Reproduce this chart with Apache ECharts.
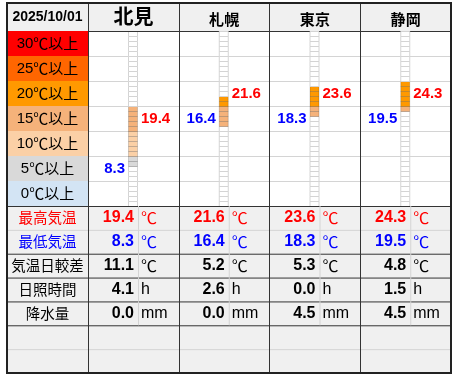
<!DOCTYPE html>
<html>
<head>
<meta charset="utf-8">
<script src="https://cdn.jsdelivr.net/npm/echarts@6/dist/echarts.min.js"></script>
<style>
  html, body { margin: 0; padding: 0; background: #fff; }
  #weather { width: 456px; height: 377px; }
</style>
</head>
<body>
<div id="weather"></div>
<script>
// データ
const dateText = "2025/10/01";
const cities = ["北見", "札幌", "東京", "静岡"];
const maxTemp = [19.4, 21.6, 23.6, 24.3];
const minTemp = [8.3, 16.4, 18.3, 19.5];
const tempRange = [11.1, 5.2, 5.3, 4.8];
const sunshine = [4.1, 2.6, 0.0, 1.5];
const rain = [0.0, 0.0, 4.5, 4.5];
const bandLabels = ["0℃以上", "5℃以上", "10℃以上", "15℃以上", "20℃以上", "25℃以上", "30℃以上"];
const bandColors = ["#d3e4f4", "#d9d9d9", "#fbd0a6", "#f5b27a", "#ff9900", "#ff6600", "#ff0000"];
const rowLabels = ["最高気温", "最低気温", "気温日較差", "日照時間", "降水量", "", ""];
const rowUnits = ["℃", "℃", "℃", "h", "mm"];
const rowColors = ["#ff0000", "#0000ff", "#000", "#000", "#000"];
const rowValues = [maxTemp, minTemp, tempRange, sunshine, rain];

// レイアウト
const L = 7, T = 3, R = 5, B = 4;
const LABEL_W = 81, HEAD_H = 28, BAND_H = 25;
const BAND_TOP = T + HEAD_H;
const TABLE_TOP = BAND_TOP + BAND_H * bandLabels.length;
const DARK = "#333";
const LIGHT = "#d4d4d4";
const FONT = '"Liberation Sans", "Noto Sans CJK JP", sans-serif';
const FONT_CJK = '"Noto Sans CJK JP", sans-serif';

const myChart = echarts.init(document.getElementById("weather"));

function bandRender(params, api) {
  const i = api.value(0);
  const lo = api.value(1);
  const hi = api.value(2);
  const cs = params.coordSys;
  const cx = api.coord([i, 0])[0];
  const bw = api.size([1, 0])[0];
  const colLeft = cx - bw / 2;
  const children = [];
  // 温度目盛りセル
  for (let k = 0; k < 35; k++) {
    const y1 = api.coord([i, k + 1])[1];
    const y0 = api.coord([i, k])[1];
    const filled = k >= Math.floor(lo) && k <= Math.floor(hi);
    children.push({
      type: "rect",
      shape: { x: colLeft + 40.5, y: y1 + 0.5, width: 9, height: y0 - y1 },
      style: {
        fill: filled ? bandColors[Math.floor(k / 5)] : "#fff",
        stroke: filled ? "rgba(0,0,0,0.16)" : LIGHT,
        lineWidth: 1,
      },
    });
  }
  const bandMid = (t) => {
    const b = Math.floor(t / 5);
    return (api.coord([i, b * 5])[1] + api.coord([i, b * 5 + 5])[1]) / 2;
  };
  children.push({
    type: "text",
    style: {
      text: hi.toFixed(1), x: colLeft + 53, y: bandMid(hi),
      align: "left", verticalAlign: "middle",
      fill: "#ff0000", font: "bold 15px " + FONT,
    },
  });
  children.push({
    type: "text",
    style: {
      text: lo.toFixed(1), x: colLeft + 37, y: bandMid(lo),
      align: "right", verticalAlign: "middle",
      fill: "#0000ff", font: "bold 15px " + FONT,
    },
  });
  // 見出し
  children.push({
    type: "text",
    style: {
      text: cities[i], x: cx, y: i === 0 ? cs.y - 15 : cs.y - 11.5,
      align: "center", verticalAlign: "middle",
      fill: "#000", font: (i === 0 ? "bold 20px " : "bold 15px ") + FONT_CJK,
    },
  });
  if (i === 0) {
    children.push({
      type: "line",
      shape: { x1: cs.x - LABEL_W, y1: cs.y + 0.5, x2: cs.x + cs.width, y2: cs.y + 0.5 },
      style: { stroke: DARK, lineWidth: 1 },
    });
  }
  return { type: "group", children: children };
}

function tableRender(params, api) {
  const r = api.value(1);
  const cs = params.coordSys;
  const yc = api.coord([0, r])[1];
  const h = api.size([0, 1])[1];
  const top = yc - h / 2, bot = yc + h / 2;
  const colW = (cs.width - LABEL_W) / cities.length;
  const children = [];
  if (r === 0) {
    children.push({
      type: "line",
      shape: { x1: cs.x, y1: top + 0.5, x2: cs.x + cs.width, y2: top + 0.5 },
      style: { stroke: DARK, lineWidth: 1 },
    });
  }
  if (r < rowLabels.length - 1) {
    const light = r === 0 || r === 5;
    children.push({
      type: "line",
      shape: { x1: cs.x, y1: bot + 0.5, x2: cs.x + cs.width, y2: bot + 0.5 },
      style: { stroke: light ? LIGHT : DARK, lineWidth: 1 },
    });
  }
  if (r < rowValues.length) {
    const color = rowColors[r];
    const unit = rowUnits[r];
    children.push({
      type: "text",
      style: {
        text: rowLabels[r], x: cs.x + LABEL_W / 2, y: yc,
        align: "center", verticalAlign: "middle",
        fill: color, font: "14.5px " + FONT_CJK,
      },
    });
    rowValues[r].forEach((v, j) => {
      const colLeft = cs.x + LABEL_W + j * colW;
      children.push({
        type: "line",
        shape: { x1: colLeft + 50.5, y1: top, x2: colLeft + 50.5, y2: bot },
        style: { stroke: LIGHT, lineWidth: 1 },
      });
      children.push({
        type: "text",
        style: {
          text: v.toFixed(1), x: colLeft + 46, y: yc,
          align: "right", verticalAlign: "middle",
          fill: color, font: "bold 16px " + FONT,
        },
      });
      children.push({
        type: "text",
        style: {
          text: unit, x: colLeft + 53, y: yc,
          align: "left", verticalAlign: "middle",
          fill: color, font: "16px " + (unit === "℃" ? FONT_CJK : FONT),
        },
      });
    });
  }
  return { type: "group", children: children };
}

const hidden = { show: false };

myChart.setOption({
  backgroundColor: "#fff",
  animation: false,
  graphic: [
    {
      type: "text",
      z: 20,
      style: {
        text: dateText, x: L + LABEL_W / 2, y: T + HEAD_H / 2,
        align: "center", verticalAlign: "middle",
        fill: "#000", font: "bold 14px " + FONT,
      },
    },
  ],
  grid: [
    // 0: 温度帯ラベル
    { left: L, top: BAND_TOP, width: LABEL_W, height: BAND_H * 7 },
    // 1: 温度バー
    { left: L + LABEL_W, top: BAND_TOP, right: R, height: BAND_H * 7 },
    // 2: 表
    { left: L, top: TABLE_TOP, right: R, bottom: B, show: true, backgroundColor: "#f0f0f0", borderWidth: 0 },
    // 3: 列の区切り
    { left: L + LABEL_W, top: T, right: R, bottom: B },
    // 4: 見出し背景
    { left: L, top: T, right: R, height: HEAD_H, show: true, backgroundColor: "#f0f0f0", borderWidth: 0 },
    // 5: 外枠
    { left: L, top: T, right: R, bottom: B, show: true, backgroundColor: "transparent", borderColor: "#222", borderWidth: 2, z: 10 },
  ],
  xAxis: [
    { gridIndex: 0, type: "value", min: 0, max: 1, show: false },
    { gridIndex: 1, type: "category", data: cities, show: false },
    { gridIndex: 2, type: "value", min: 0, max: 1, show: false },
    {
      gridIndex: 3, type: "category", data: cities, z: 5,
      axisLine: hidden, axisTick: hidden, axisLabel: hidden,
      splitLine: { show: true, interval: 0, lineStyle: { color: DARK, width: 1 } },
    },
    { gridIndex: 4, type: "value", show: false },
    { gridIndex: 5, type: "value", show: false },
  ],
  yAxis: [
    { gridIndex: 0, type: "category", data: bandLabels, show: false },
    {
      gridIndex: 1, type: "value", min: 0, max: 35, interval: 5,
      axisLine: hidden, axisTick: hidden, axisLabel: hidden,
      splitLine: { show: true, lineStyle: { color: LIGHT, width: 1 } },
    },
    { gridIndex: 2, type: "category", data: rowLabels.map((_, k) => k), inverse: true, show: false },
    { gridIndex: 3, type: "value", show: false },
    { gridIndex: 4, type: "value", show: false },
    { gridIndex: 5, type: "value", show: false },
  ],
  series: [
    {
      type: "bar",
      xAxisIndex: 0,
      yAxisIndex: 0,
      barWidth: "100%",
      silent: true,
      data: bandLabels.map((b, k) => ({ value: 1, itemStyle: { color: bandColors[k] } })),
      label: {
        show: true,
        position: "inside",
        formatter: (p) => {
          const m = p.name.match(/^(\d+)(.*)$/);
          return "{n|" + m[1] + "}{c|" + m[2] + "}";
        },
        rich: {
          n: { color: "#000", fontSize: 15, fontFamily: FONT },
          c: { color: "#000", fontSize: 15, fontFamily: FONT_CJK },
        },
      },
    },
    {
      type: "custom",
      xAxisIndex: 1,
      yAxisIndex: 1,
      silent: true,
      renderItem: bandRender,
      data: cities.map((c, i) => [i, minTemp[i], maxTemp[i]]),
    },
    {
      type: "custom",
      xAxisIndex: 2,
      yAxisIndex: 2,
      silent: true,
      renderItem: tableRender,
      data: rowLabels.map((c, r) => [0, r]),
    },
  ],
});
</script>
</body>
</html>
